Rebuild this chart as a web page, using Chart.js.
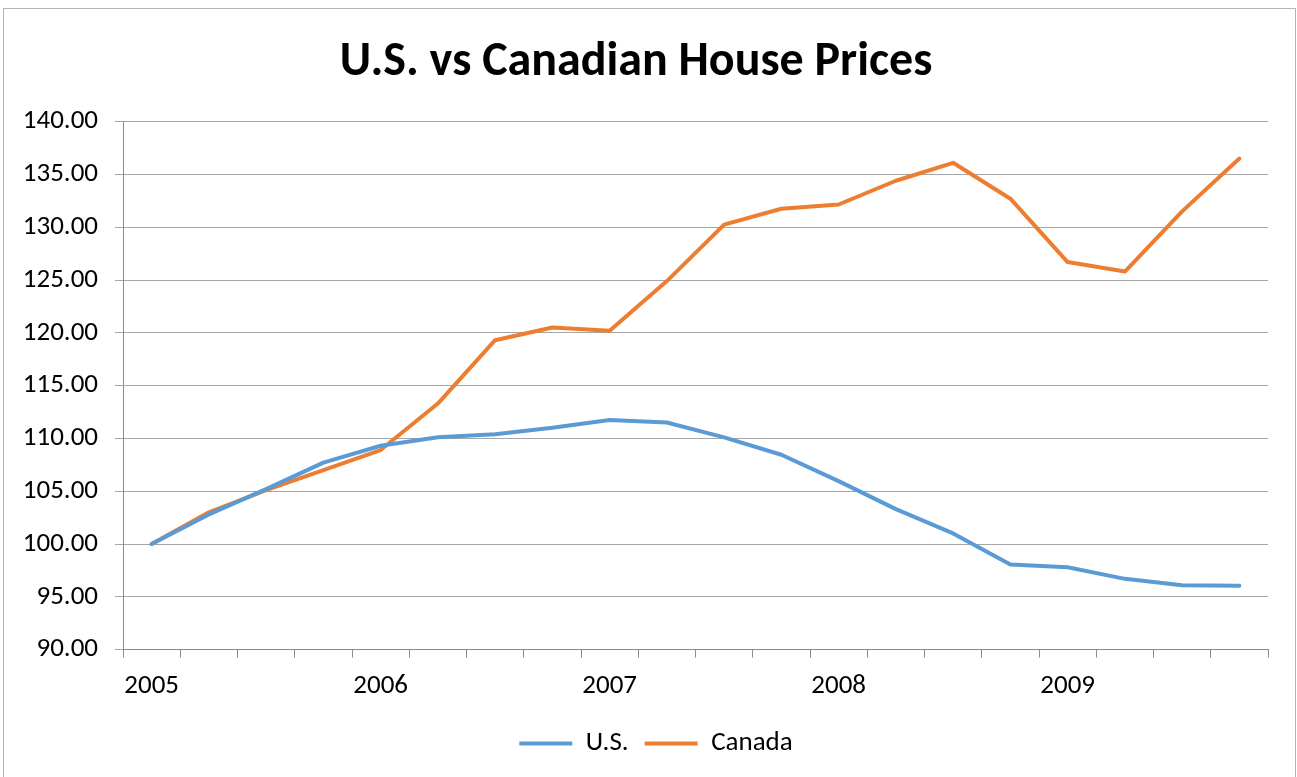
<!DOCTYPE html>
<html>
<head>
<meta charset="utf-8">
<title>U.S. vs Canadian House Prices</title>
<script src="https://cdn.jsdelivr.net/npm/chart.js@4.4.1/dist/chart.umd.min.js"></script>
<style>
  html, body { margin: 0; padding: 0; background: #fff; overflow: hidden; }
  #frame {
    position: absolute; left: 3px; top: 8px;
    width: 1291px; height: 800px;
    border: 1px solid #b4b4b4;
    pointer-events: none;
  }
  #chart { position: absolute; left: 0; top: 0; }
</style>
</head>
<body>
<canvas id="chart" width="1297" height="777"></canvas>
<div id="frame"></div>
<script>
// Quarterly index, 2005 Q1 = 100
const quarters = [
  '2005 Q1', '2005 Q2', '2005 Q3', '2005 Q4',
  '2006 Q1', '2006 Q2', '2006 Q3', '2006 Q4',
  '2007 Q1', '2007 Q2', '2007 Q3', '2007 Q4',
  '2008 Q1', '2008 Q2', '2008 Q3', '2008 Q4',
  '2009 Q1', '2009 Q2', '2009 Q3', '2009 Q4'
];
const usPrices = [
  100.0, 102.8, 105.2, 107.7, 109.3, 110.1, 110.4, 111.0, 111.75, 111.5,
  110.1, 108.45, 105.95, 103.3, 101.0, 98.05, 97.8, 96.7, 96.1, 96.05
];
const canadaPrices = [
  100.0, 103.0, 105.1, 107.0, 108.9, 113.3, 119.3, 120.5, 120.2, 124.9,
  130.25, 131.75, 132.15, 134.4, 136.1, 132.7, 126.7, 125.8, 131.5, 136.5
];
const yTicks = { min: 90, max: 140, step: 5 };

const fontFamily = 'Calibri, Carlito, Lato, sans-serif';
const axisGray = '#8c8c8c';

// nudge the legend a bit to the right, like Excel centres it
const legendShift = {
    id: 'legendShift',
    afterLayout(chart) {
        if (chart.legend) {
            chart.legend.left += 20;
            chart.legend.right += 20;
        }
    }
};

const ctx = document.getElementById('chart').getContext('2d');
const chart = new Chart(ctx, {
    type: 'line',
    data: {
        labels: quarters,
        datasets: [{
            label: 'U.S.',
            data: usPrices,
            borderColor: '#5B9BD5',
            backgroundColor: '#5B9BD5',
            borderWidth: 4,
            borderCapStyle: 'round',
            borderJoinStyle: 'round',
            pointRadius: 0,
            tension: 0
        }, {
            label: 'Canada',
            data: canadaPrices,
            borderColor: '#ED7D31',
            backgroundColor: '#ED7D31',
            borderWidth: 4,
            borderCapStyle: 'round',
            borderJoinStyle: 'round',
            pointRadius: 0,
            tension: 0
        }]
    },
    options: {
        responsive: false,
        animation: false,
        layout: { padding: { left: 4, right: 29, top: 34, bottom: 10 } },
        plugins: {
            title: {
                display: true,
                text: 'U.S. vs Canadian House Prices',
                color: '#000',
                font: { family: fontFamily, size: 48, weight: 'bold', lineHeight: 1.2 },
                padding: { top: 0, bottom: 30 }
            },
            legend: {
                position: 'bottom',
                labels: {
                    color: '#000',
                    font: { family: fontFamily, size: 27 },
                    usePointStyle: true,
                    pointStyle: 'line',
                    pointStyleWidth: 53,
                    boxHeight: 27,
                    padding: 16
                }
            },
            tooltip: { enabled: false }
        },
        scales: {
            x: {
                offset: true,
                grid: {
                    offset: true,
                    drawOnChartArea: false,
                    drawTicks: true,
                    tickLength: 8,
                    color: axisGray
                },
                border: { color: axisGray, width: 1 },
                ticks: {
                    autoSkip: false,
                    maxRotation: 0,
                    color: '#000',
                    padding: 12,
                    font: { family: fontFamily, size: 27 },
                    callback: function(value, index) {
                        const q = quarters[index];
                        return q.endsWith('Q1') ? q.slice(0, 4) : '';
                    }
                }
            },
            y: {
                min: yTicks.min,
                max: yTicks.max,
                grid: {
                    color: '#a6a6a6',
                    tickLength: 8,
                    drawTicks: true
                },
                border: { color: axisGray, width: 1 },
                ticks: {
                    stepSize: yTicks.step,
                    color: '#000',
                    padding: 17,
                    font: { family: fontFamily, size: 27 },
                    callback: v => v.toFixed(2)
                },
                afterFit: function(scale) { scale.width = 119; }
            }
        }
    },
    plugins: [legendShift]
});
</script>
</body>
</html>
